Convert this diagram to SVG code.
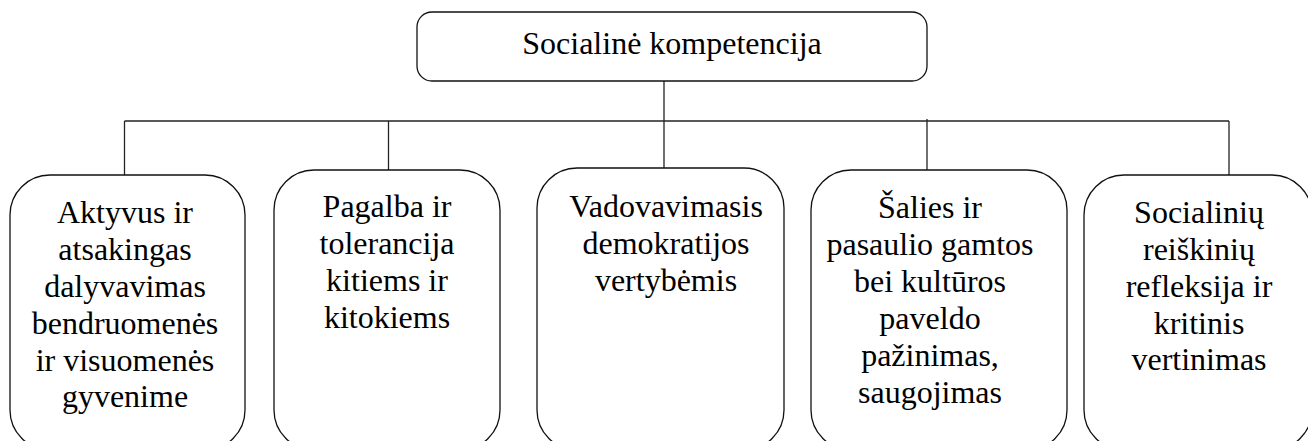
<svg xmlns="http://www.w3.org/2000/svg" width="1308" height="441" viewBox="0 0 1308 441">
<style>
.box{fill:#fff;stroke:#111;stroke-width:1.3}
.lbl{font-family:"Liberation Serif","DejaVu Serif",serif;font-size:32px;fill:#000;text-anchor:middle}
.con{stroke:#222;stroke-width:1.3;fill:none}
</style>
<rect width="1308" height="441" fill="#fff"/>
<g id="connectors">
<line class="con" x1="664" y1="81" x2="664" y2="175"/>
<line class="con" x1="124.5" y1="121" x2="1229" y2="121"/>
<line class="con" x1="124.5" y1="121" x2="124.5" y2="175"/>
<line class="con" x1="388.5" y1="121" x2="388.5" y2="170"/>
<line class="con" x1="927" y1="119" x2="927" y2="170"/>
<line class="con" x1="1229" y1="121" x2="1229" y2="175"/>
</g>
<g id="root">
<rect class="box" x="417" y="12" width="510" height="69" rx="15"/>
<text class="lbl" x="672" y="54">Socialinė kompetencija</text>
</g>
<g id="n1">
<rect class="box" x="10" y="175" width="235" height="275" rx="40"/>
<text class="lbl" x="125" y="223">Aktyvus ir</text>
<text class="lbl" x="125" y="260">atsakingas</text>
<text class="lbl" x="125" y="297">dalyvavimas</text>
<text class="lbl" x="125" y="334">bendruomenės</text>
<text class="lbl" x="125" y="371">ir visuomenės</text>
<text class="lbl" x="125" y="407">gyvenime</text>
</g>
<g id="n2">
<rect class="box" x="274" y="170" width="226" height="280" rx="40"/>
<text class="lbl" x="387" y="217">Pagalba ir</text>
<text class="lbl" x="387" y="254">tolerancija</text>
<text class="lbl" x="387" y="291">kitiems ir</text>
<text class="lbl" x="387" y="328">kitokiems</text>
</g>
<g id="n3">
<rect class="box" x="537" y="168" width="247" height="282" rx="40"/>
<text class="lbl" x="666" y="217">Vadovavimasis</text>
<text class="lbl" x="666" y="254">demokratijos</text>
<text class="lbl" x="666" y="291">vertybėmis</text>
</g>
<g id="n4">
<rect class="box" x="811" y="170" width="256" height="280" rx="40"/>
<text class="lbl" x="930" y="218">Šalies ir</text>
<text class="lbl" x="930" y="255">pasaulio gamtos</text>
<text class="lbl" x="930" y="292">bei kultūros</text>
<text class="lbl" x="930" y="329">paveldo</text>
<text class="lbl" x="930" y="366">pažinimas,</text>
<text class="lbl" x="930" y="403">saugojimas</text>
</g>
<g id="n5">
<rect class="box" x="1084" y="175" width="228" height="275" rx="40"/>
<text class="lbl" x="1199" y="223">Socialinių</text>
<text class="lbl" x="1199" y="260">reiškinių</text>
<text class="lbl" x="1199" y="297">refleksija ir</text>
<text class="lbl" x="1199" y="334">kritinis</text>
<text class="lbl" x="1199" y="370">vertinimas</text>
</g>
</svg>
